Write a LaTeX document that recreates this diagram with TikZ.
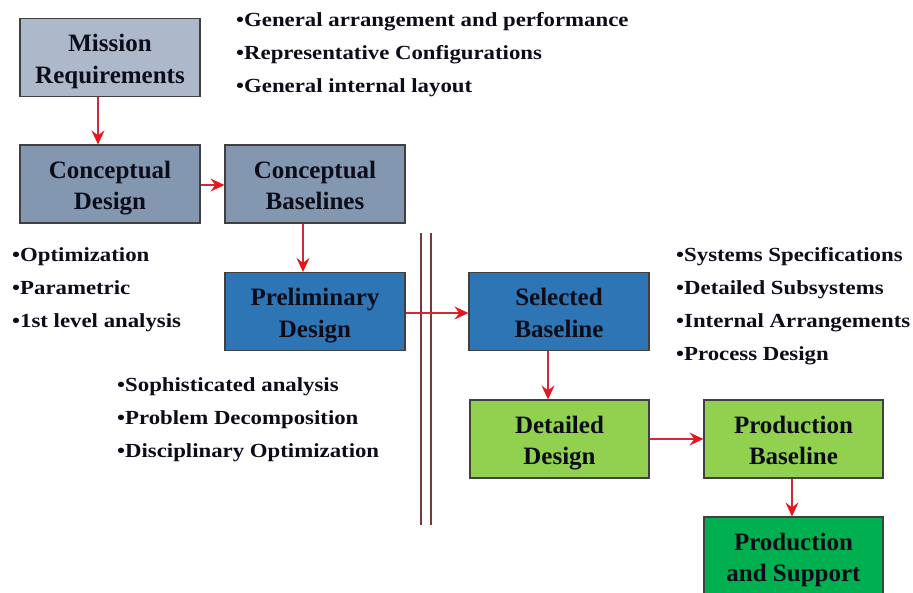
\documentclass[tikz,border=0pt]{standalone}
\usepackage{fontspec}
\setmainfont{Liberation Serif}[BoldFont={Liberation Serif Bold}]
\newfontfamily\boxfont{Liberation Serif Bold}
\newfontfamily\notefont{Liberation Serif Bold}[FakeStretch=1.14]
\usetikzlibrary{arrows.meta}
% two-line box label with fixed line struts, so all boxes share the same baselines
\newcommand\twoline[2]{\rule{0pt}{25.5pt}#1\\#2\rule[-6pt]{0pt}{6pt}}
\definecolor{mrfill}{HTML}{ADB9CA}
\definecolor{cfill}{HTML}{8497B0}
\definecolor{bfill}{HTML}{2E75B6}
\definecolor{gfill}{HTML}{92D050}
\definecolor{dgfill}{HTML}{00B050}
\definecolor{edge}{HTML}{404040}
\definecolor{txt}{HTML}{0D0D1A}
\definecolor{arr}{HTML}{D02A36}
\definecolor{arrtip}{HTML}{E8161B}
\definecolor{sepcol}{HTML}{7A3A3A}
\tikzset{
  box/.style={draw=edge, line width=1.2pt, minimum width=180pt, minimum height=78pt,
    inner sep=0pt, align=center, text=txt,
    font=\fontsize{25}{31.5}\boxfont},
  bul/.style={anchor=base west, inner sep=0pt, text=txt,
    font=\fontsize{20}{24}\notefont},
  link/.style={draw=arr, line width=1.1pt,
    -{Stealth[length=14pt,width=13pt,inset=5pt,color=arrtip]}},
  sepline/.style={draw=sepcol, line width=1.2pt}
}
\begin{document}
\begin{tikzpicture}[x=1pt,y=-1pt]
\useasboundingbox (0,0) rectangle (913,592);
\clip (0,0) rectangle (913,592);
\fill[white] (0,0) rectangle (913,592);

% process boxes
\node[box, fill=mrfill] (mr) at (110,57.5) {\twoline{Mission}{Requirements}};
\node[box, fill=cfill] (cd) at (110,184) {\twoline{Conceptual}{Design}};
\node[box, fill=cfill] (cb) at (315,184) {\twoline{Conceptual}{Baselines}};
\node[box, fill=bfill] (pd) at (315,311.5) {\twoline{Preliminary}{Design}};
\node[box, fill=bfill] (sb) at (559,311.5) {\twoline{Selected}{Baseline}};
\node[box, fill=gfill, minimum width=179pt] (dd) at (559.5,439) {\twoline{Detailed}{Design}};
\node[box, fill=gfill, minimum width=179pt] (pb) at (793.5,439) {\twoline{Production}{Baseline}};
\node[box, fill=dgfill, minimum width=179pt] (ps) at (793.5,556) {\twoline{Production}{and Support}};

% phase separator
\draw[sepline] (421,233) -- (421,525);
\draw[sepline] (431,233) -- (431,525);

% flow arrows
\draw[link] ([xshift=-12pt]mr.south) -- ([xshift=-12pt]cd.north);
\draw[link] ([yshift=-1pt]cd.east) -- ([yshift=-1pt]cb.west);
\draw[link] ([xshift=-12pt]cb.south) -- ([xshift=-12pt]pd.north);
\draw[link] ([yshift=-1.5pt]pd.east) -- ([yshift=-1.5pt]sb.west);
\draw[link] ([xshift=-11pt]sb.south) -- ([xshift=-11.5pt]dd.north);
\draw[link] (dd.east) -- (pb.west);
\draw[link] ([xshift=-1.5pt]pb.south) -- ([xshift=-1.5pt]ps.north);

% notes
\foreach \t [count=\i] in {General arrangement and performance,Representative Configurations,General internal layout}
  \node[bul] (ta\i) at (236,{26+33.3*(\i-1)}) {\textbullet\t};
\foreach \t [count=\i] in {Optimization,Parametric,1st level analysis}
  \node[bul] (tb\i) at (12,{261+33.3*(\i-1)}) {\textbullet\t};
\foreach \t [count=\i] in {Sophisticated analysis,Problem Decomposition,Disciplinary Optimization}
  \node[bul] (tc\i) at (117,{391+33.3*(\i-1)}) {\textbullet\t};
\foreach \t [count=\i] in {Systems Specifications,Detailed Subsystems,Internal Arrangements,Process Design}
  \node[bul] (td\i) at (676,{261+33.3*(\i-1)}) {\textbullet\t};
\end{tikzpicture}
\end{document}
